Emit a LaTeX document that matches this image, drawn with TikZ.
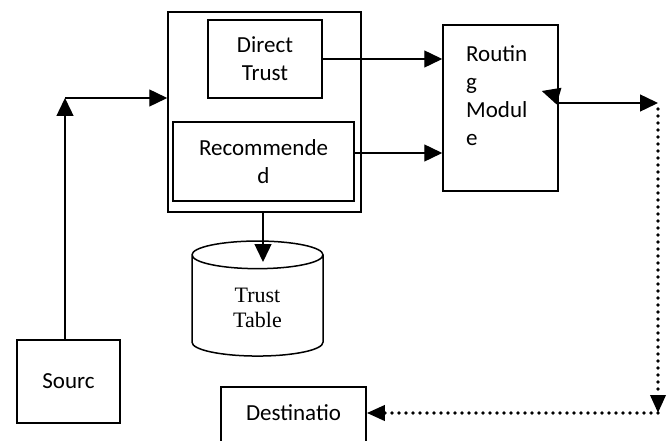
\documentclass[tikz,border=0pt]{standalone}
\usepackage{fontspec}
\setmainfont{Liberation Serif}
\newfontfamily\boxfont{Carlito}
\usetikzlibrary{arrows.meta,shapes.geometric}

\tikzset{
	box/.style = {draw, line width=1.5pt, inner sep=0pt, align=center,
		font=\boxfont\fontsize{23}{28}\selectfont},
	arr/.style = {line width=1.4pt, -{Triangle[length=18pt,width=17pt]}},
	dotarr/.style = {line width=3.6pt, line cap=round, dash pattern=on 0pt off 7pt,
		-{Triangle[length=18pt,width=15pt]}},
}

\begin{document}
\begin{tikzpicture}[x=1pt, y=-1pt]
	\clip (0,0) rectangle (672,441);

	% trust evaluation block
	\node[box, minimum width=193, minimum height=200] (trust) at (264.5,112) {};
	\node[box, minimum width=114, minimum height=78] (dt) at (265,59) {Direct\\Trust};
	\node[box, minimum width=181, minimum height=79] (rec) at (263.5,161.5) {Recommende\\d};

	\node[box, minimum width=115, minimum height=166] (rm) at (500.5,108) {};
	\node[anchor=north west, inner sep=0pt, align=left,
		font=\boxfont\fontsize{23}{28}\selectfont] (rmtext) at (466,45) {Routin\\g\\Modul\\e};

	\node[draw, line width=1.5pt, cylinder, shape border rotate=90, aspect=0.5,
		minimum width=131, minimum height=115, align=center,
		font=\fontsize{22}{25}\selectfont] (tt) at (257.5,308) {Trust\\Table};

	\node[box, minimum width=103, minimum height=83] (src) at (68.5,381.5) {Sourc};
	\node[box, minimum width=145, minimum height=90] (dst) at (293.5,432) {};
	\node[inner sep=0pt, font=\boxfont\fontsize{23}{28}\selectfont] (dsttext) at (293.5,413) {Destinatio};

	\coordinate (corner) at (65,98);
	\coordinate (ttin) at (263,262);
	\coordinate (out) at (658,103);
	\coordinate (down) at (658,413);

	\draw[arr] (src.north -| corner) -- (corner);
	\draw[arr] (corner) -- (corner -| trust.west);
	\draw[arr] (dt.east) -- (dt.east -| rm.west);
	\draw[arr] ([yshift=8.5pt]rec.east) -- ([yshift=8.5pt]rec.east -| rm.west);
	\draw[arr] (trust.south -| ttin) -- (ttin);
	\draw[arr] ([yshift=12pt]rm.east) -- ++(-17,-5);
	\draw[arr] (out -| rm.east) -- (out);
	\draw[dotarr] ([yshift=-6pt]out) -- (down);
	\draw[dotarr] (down) -- (down -| dst.east);
\end{tikzpicture}
\end{document}
